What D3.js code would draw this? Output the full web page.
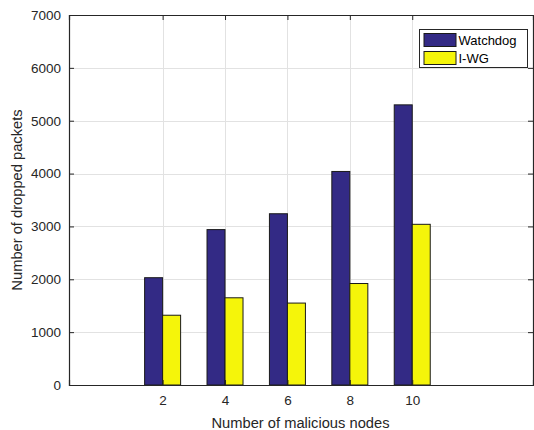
<!DOCTYPE html>
<html>
<head>
<meta charset="utf-8">
<script src="https://cdn.jsdelivr.net/npm/d3@7"></script>
<style>
  body { margin: 0; background: #fff; }
  svg { display: block; font-family: "Liberation Sans", Arial, Helvetica, sans-serif; }
</style>
</head>
<body>
<svg id="chart" width="534" height="430"></svg>
<script>
// Dropped packets per number of malicious nodes
const nodes = [2, 4, 6, 8, 10];
const watchdog = [2030, 2940, 3240, 4040, 5300];
const iwg = [1320, 1650, 1550, 1920, 3040];
const seriesNames = ["Watchdog", "I-WG"];
const seriesColors = ["#332a85", "#f5f50a"];
const yTicks = [0, 1000, 2000, 3000, 4000, 5000, 6000, 7000];
const xTicks = [2, 4, 6, 8, 10];

const svg = d3.select("#chart");
const plotLeft = 69, plotRight = 533, plotTop = 15, plotBottom = 385;

const x = d3.scaleLinear().domain([-1, 13.87]).range([plotLeft, plotRight]);
const y = d3.scaleLinear().domain([0, 7000]).range([plotBottom, plotTop]);

// grid
const grid = svg.append("g");
grid.selectAll("line.h").data(yTicks.slice(1, -1)).join("line")
  .attr("x1", plotLeft).attr("x2", plotRight)
  .attr("y1", d => Math.round(y(d)) + 0.5).attr("y2", d => Math.round(y(d)) + 0.5)
  .attr("stroke", "#e2e2e2").attr("stroke-width", 1);
grid.selectAll("line.v").data(xTicks).join("line")
  .attr("x1", d => Math.round(x(d)) + 0.5).attr("x2", d => Math.round(x(d)) + 0.5)
  .attr("y1", plotTop).attr("y2", plotBottom)
  .attr("stroke", "#e2e2e2").attr("stroke-width", 1);

// bars
const bw = 18;
const series = [watchdog, iwg];
series.forEach((vals, s) => {
  svg.append("g").selectAll("rect").data(vals).join("rect")
    .attr("x", (d, i) => x(nodes[i]) + (s === 0 ? -bw : 0))
    .attr("y", d => y(d))
    .attr("width", bw)
    .attr("height", d => y(0) - y(d))
    .attr("fill", seriesColors[s])
    .attr("stroke", "#1a1a1a").attr("stroke-width", 1);
});

// axes
const axisColor = "#262626";
const gx = svg.append("g").attr("transform", `translate(0,${plotBottom})`)
  .call(d3.axisBottom(x).tickValues(xTicks).tickSize(-5).tickPadding(10).tickFormat(d3.format("d")));
const gxTop = svg.append("g").attr("transform", `translate(0,${plotTop})`)
  .call(d3.axisTop(x).tickValues(xTicks).tickSize(-5).tickFormat(""));
const gy = svg.append("g").attr("transform", `translate(${plotLeft},0)`)
  .call(d3.axisLeft(y).tickValues(yTicks).tickSize(-5).tickPadding(8).tickFormat(d3.format("d")));
const gyR = svg.append("g").attr("transform", `translate(${plotRight},0)`)
  .call(d3.axisRight(y).tickValues(yTicks).tickSize(-5).tickFormat(""));

[gx, gxTop, gy, gyR].forEach(g => {
  g.select(".domain").attr("stroke", axisColor).attr("stroke-width", 1.2);
  g.selectAll(".tick line").attr("stroke", axisColor);
  g.selectAll(".tick text").attr("fill", "#262626")
    .style("font-size", "13.5px").style("font-family", "Liberation Sans, Arial, sans-serif");
});
gx.selectAll(".tick text").attr("dy", "0.71em");

// axis titles
svg.append("text").attr("x", 300.5).attr("y", 428)
  .attr("text-anchor", "middle").attr("fill", "#262626").style("font-size", "14.7px")
  .text("Number of malicious nodes");
svg.append("text").attr("transform", `translate(22,${(plotTop + plotBottom) / 2}) rotate(-90)`)
  .attr("text-anchor", "middle").attr("fill", "#262626").style("font-size", "14.7px")
  .text("Number of dropped packets");

// legend
const lg = svg.append("g").attr("transform", "translate(419.5,29.5)");
lg.append("rect").attr("width", 108).attr("height", 38)
  .attr("fill", "#fff").attr("stroke", "#262626").attr("stroke-width", 1);
seriesNames.forEach((name, i) => {
  lg.append("rect").attr("x", 4.5).attr("y", 4 + i * 18).attr("width", 32).attr("height", 13)
    .attr("fill", seriesColors[i]).attr("stroke", "#1a1a1a");
  lg.append("text").attr("x", 39).attr("y", 15.5 + i * 18)
    .attr("fill", "#000").style("font-size", "13px").text(name);
});
</script>
</body>
</html>
